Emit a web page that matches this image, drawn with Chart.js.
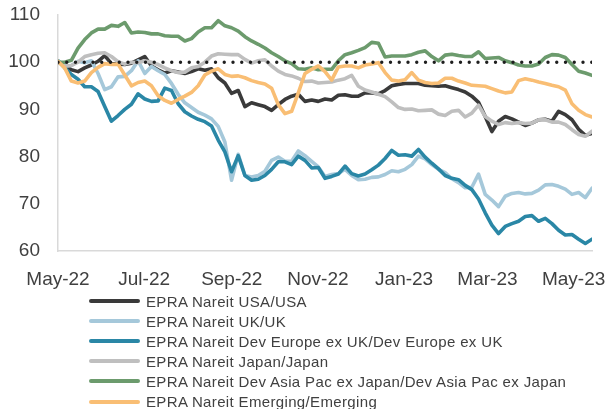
<!DOCTYPE html>
<html><head><meta charset="utf-8">
<script src="https://cdn.jsdelivr.net/npm/chart.js@4.4.0/dist/chart.umd.min.js"></script>
<style>
html,body{margin:0;padding:0;background:#fff;}
#wrap{position:relative;width:611px;height:409px;overflow:hidden;background:#fff;}
#chartBox{position:absolute;left:0;top:0;width:611px;height:300px;}
#legend{position:absolute;left:0;top:0;width:611px;height:409px;}
.item{position:absolute;left:89px;height:20px;display:flex;align-items:center;font-family:"Liberation Sans",Arial,sans-serif;font-size:15px;letter-spacing:0.35px;color:#404040;white-space:nowrap;}
.swatch{width:51px;height:4px;border-radius:2px;margin-right:6px;flex:none;}
</style></head>
<body>
<div id="wrap">
  <div id="chartBox"><canvas id="c"></canvas></div>
  <div id="legend"></div>
</div>
<script>
// ---- data (evenly spaced in time) ----
const spanDays = 378;                       // first to last observation
const tickDays = [0, 61, 123, 184, 245, 304, 365];
const tickLabels = ['May-22','Jul-22','Sep-22','Nov-22','Jan-23','Mar-23','May-23'];
const refLevel = 100;

const seriesNames = [
  'EPRA Nareit USA/USA',
  'EPRA Nareit UK/UK',
  'EPRA Nareit Dev Europe ex UK/Dev Europe ex UK',
  'EPRA Nareit Japan/Japan',
  'EPRA Nareit Dev Asia Pac ex Japan/Dev Asia Pac ex Japan',
  'EPRA Nareit Emerging/Emerging'
];
const seriesColors = ['#3a3a3a','#a5c8da','#2a87a6','#bfbfbf','#6c9b6d','#f9be74'];

const usa = [100,99.3,98.4,98.0,98.8,99.4,100.2,101.4,99.7,99.6,
  99.5,99.8,100.5,101.2,99.2,98.4,97.7,98.2,97.9,97.6,
  98.0,98.6,98.3,98.6,96.7,95.6,93.4,94.0,90.6,91.4,
  91.0,90.6,89.8,91.0,92.1,92.8,93.2,91.7,92.0,91.7,
  92.2,92.0,93.0,93.1,92.8,92.8,93.5,93.5,93.3,94.0,
  95.0,95.3,95.5,95.5,95.5,95.1,95.0,94.9,95.0,94.6,
  94.2,93.7,92.8,91.5,88.5,85.3,87.5,88.5,88.0,87.3,
  86.6,87.1,87.8,87.9,87.5,89.6,88.9,87.8,85.8,84.5,84.9];
const uk = [100.3,99.2,99.3,100.2,99.9,100.3,97.6,94.2,94.8,96.9,
  97.0,98.2,100.3,97.6,99.1,98.2,97.4,95.5,93.2,91.4,
  90.4,89.4,88.8,88.0,86.4,83.1,75.0,80.5,76.0,75.7,
  76.0,76.9,79.2,79.9,79.0,79.0,81.2,80.2,79.0,77.8,
  75.8,76.2,76.4,77.3,76.0,75.1,75.2,75.6,75.7,76.2,
  77.0,76.8,77.3,78.3,80.1,79.5,78.3,77.3,76.6,75.3,
  74.5,73.4,73.5,76.3,72.0,70.8,69.4,71.6,72.2,72.4,
  72.1,72.2,72.9,74.0,74.1,73.7,73.1,72.0,72.4,71.3,73.3];
const devEurope = [100.3,98.8,97.4,96.4,94.8,94.8,93.8,90.6,87.5,88.7,
  90.0,91.1,93.3,92.2,91.7,91.8,94.5,94.0,91.2,89.5,
  88.6,87.9,87.4,86.5,83.5,81.0,76.8,80.2,76.0,75.0,
  75.2,76.0,77.3,78.9,78.9,78.3,80.1,79.2,77.6,77.7,
  75.4,75.8,76.3,78.0,76.4,75.9,76.3,77.2,78.2,79.6,
  81.3,80.3,80.4,80.1,81.5,79.9,78.6,77.4,76.0,75.4,
  75.1,73.9,73.0,71.0,68.1,65.5,63.7,65.2,65.8,66.3,
  67.3,67.5,66.3,66.9,65.8,64.4,63.4,63.5,62.5,61.6,62.5];
const japan = [100,99.2,99.3,100.0,101.2,101.6,101.9,102.0,101.2,100.1,
  99.6,100.0,99.9,100.3,100.0,99.5,98.8,98.2,97.8,97.9,
  98.8,99.1,100.0,101.3,101.8,101.7,101.6,101.6,100.6,99.8,
  100.3,100.5,99.2,98.1,97.4,97.1,96.6,95.9,96.0,95.6,
  95.7,95.8,96.2,96.5,97.2,94.9,94.1,93.7,93.2,92.7,
  91.6,90.4,90.0,90.1,89.7,89.8,89.9,89.0,88.7,89.6,
  89.8,88.4,89.2,90.9,88.5,87.5,86.8,87.2,87.0,87.2,
  87.0,87.1,87.8,87.8,87.3,87.3,86.8,85.7,84.7,84.3,85.4];
const asiaPac = [100,100,100.4,103.0,104.8,106.2,107.0,107.0,107.8,107.6,
  108.4,106.2,106.4,106.3,106.0,106.0,105.6,105.5,105.5,104.5,
  105.0,106.4,107.3,107.3,108.8,107.7,107.3,106.6,105.4,104.5,
  103.8,103.0,102.0,101.2,100.3,99.7,98.6,98.5,98.8,98.4,
  98.5,98.5,100.3,101.6,102.0,102.5,103.1,104.2,104.0,101.1,
  101.3,101.3,101.3,101.6,102.1,102.4,101.2,100.3,101.5,101.7,
  101.4,101.2,101.2,102.2,100.8,100.9,101.0,100.3,99.9,99.4,
  99.2,99.2,99.6,101.0,101.6,101.5,101.0,99.5,98.1,97.7,97.2];
const emerging = [100.2,98.8,96.0,95.6,96.0,97.8,98.9,99.7,99.5,99.6,
  97.3,95.0,95.7,96.0,95.0,92.9,91.9,91.3,92.1,92.8,
  93.6,95.0,97.3,98.1,98.6,97.4,97.0,97.1,96.7,96.1,
  95.7,95.4,94.5,91.0,89.1,89.6,93.5,97.6,98.5,99.2,
  98.0,96.2,99.0,99.2,99.2,98.8,99.4,99.6,99.9,97.8,
  96.2,96.0,96.3,97.8,96.2,95.7,95.5,95.6,96.6,96.6,
  96.0,95.6,95.1,95.0,94.9,94.4,93.9,93.5,93.7,96.1,
  96.5,96.2,95.8,95.5,95.1,94.8,94.1,91.2,89.8,88.9,88.4];

const seriesValues = [usa, uk, devEurope, japan, asiaPac, emerging];

// ---- build chart ----
const FONT = '"Liberation Sans", Arial, sans-serif';
const toPoints = arr => arr.map((v, i) => ({x: i * spanDays / (arr.length - 1), y: v}));

const datasets = seriesValues.map((vals, k) => ({
  label: seriesNames[k],
  data: toPoints(vals),
  borderColor: seriesColors[k],
  backgroundColor: seriesColors[k],
  borderWidth: 3.6,
  pointRadius: 0,
  tension: 0,
  borderJoinStyle: 'round',
  borderCapStyle: 'round',
  order: seriesValues.length - k + 1
}));
datasets.push({
  label: 'ref',
  data: [{x: 0, y: refLevel}, {x: spanDays, y: refLevel}],
  borderColor: '#1e1e1e',
  borderWidth: 3.4,
  borderDash: [0, 8.75],
  borderCapStyle: 'round',
  pointRadius: 0,
  order: 0
});

new Chart(document.getElementById('c'), {
  type: 'line',
  data: {datasets},
  options: {
    responsive: true,
    maintainAspectRatio: false,
    animation: false,
    events: [],
    layout: {padding: {left: 0, right: 19, top: 15, bottom: 0}},
    plugins: {legend: {display: false}, tooltip: {enabled: false}},
    scales: {
      x: {
        type: 'linear',
        min: 0, max: spanDays,
        grid: {display: false, drawTicks: false},
        border: {display: true, color: '#d9d9d9', width: 1.5},
        afterBuildTicks: s => { s.ticks = tickDays.map(v => ({value: v})); },
        afterFit: s => { s.height = 49; s.paddingLeft = 0; s.paddingRight = 0; },
        ticks: {
          autoSkip: false, maxRotation: 0, padding: 17,
          color: '#404040', font: {family: FONT, size: 19},
          callback: (v) => tickLabels[tickDays.indexOf(v)]
        }
      },
      y: {
        min: 60, max: 110,
        grid: {display: false, drawTicks: false},
        border: {display: true, color: '#d9d9d9', width: 1.5},
        afterFit: s => { s.width = 58; s.paddingTop = 0; s.paddingBottom = 0; },
        ticks: {stepSize: 10, padding: 18, color: '#404040', font: {family: FONT, size: 19}}
      }
    }
  }
});

// ---- legend (single column, as in the reference) ----
const legend = document.getElementById('legend');
seriesNames.forEach((name, k) => {
  const row = document.createElement('div');
  row.className = 'item';
  row.style.top = (291 + k * 20.1) + 'px';
  const sw = document.createElement('span');
  sw.className = 'swatch';
  sw.style.background = seriesColors[k];
  const tx = document.createElement('span');
  tx.textContent = name;
  row.appendChild(sw); row.appendChild(tx);
  legend.appendChild(row);
});
</script>
</body></html>
